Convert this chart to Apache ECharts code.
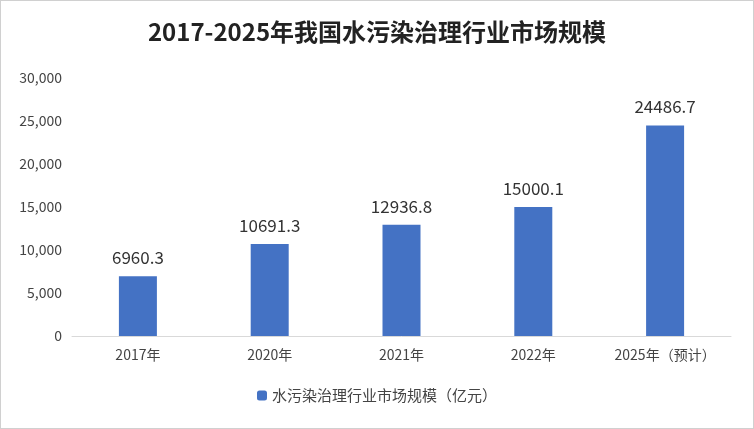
<!DOCTYPE html>
<html>
<head>
<meta charset="utf-8">
<script src="https://cdn.jsdelivr.net/npm/echarts@6/dist/echarts.min.js"></script>
<style>
  html, body { margin: 0; padding: 0; background: #fff; }
  #chart { width: 752px; height: 427px; border: 1px solid #d0d0d0; }
</style>
</head>
<body>
<div id="chart"></div>
<script>
// 年份
const categories = ['2017年', '2020年', '2021年', '2022年', '2025年（预计）'];
// 市场规模（亿元）
const values = [6960.3, 10691.3, 12936.8, 15000.1, 24486.7];
const seriesName = '水污染治理行业市场规模（亿元）';

const chart = echarts.init(document.getElementById('chart'));
chart.setOption({
  animation: false,
  title: {
    text: '2017-2025年我国水污染治理行业市场规模',
    left: 'center',
    top: 14,
    textStyle: { fontFamily: 'Noto Sans CJK SC', fontSize: 24, fontWeight: 'bold', color: '#222' }
  },
  grid: { left: 71, right: 22, top: 77, bottom: 92 },
  legend: {
    bottom: 20,
    itemWidth: 10,
    itemHeight: 10,
    textStyle: { fontFamily: 'Noto Sans CJK SC', fontSize: 15, color: '#444' },
    data: [seriesName]
  },
  xAxis: {
    type: 'category',
    data: categories,
    axisTick: { show: false },
    axisLine: { lineStyle: { color: '#d9d9d9' } },
    axisLabel: { fontFamily: 'Noto Sans CJK SC', fontSize: 14, color: '#444', margin: 12 }
  },
  yAxis: {
    type: 'value',
    min: 0,
    max: 30000,
    interval: 5000,
    splitLine: { show: false },
    axisLabel: { fontFamily: 'Noto Sans CJK SC', fontSize: 14, color: '#444', margin: 10 }
  },
  series: [{
    name: seriesName,
    type: 'bar',
    data: values,
    barWidth: 38,
    itemStyle: { color: '#4472C4' },
    label: {
      show: true,
      position: 'top',
      distance: 10,
      fontFamily: 'Noto Sans CJK SC',
      fontSize: 17,
      color: '#333'
    }
  }]
});
</script>
</body>
</html>
